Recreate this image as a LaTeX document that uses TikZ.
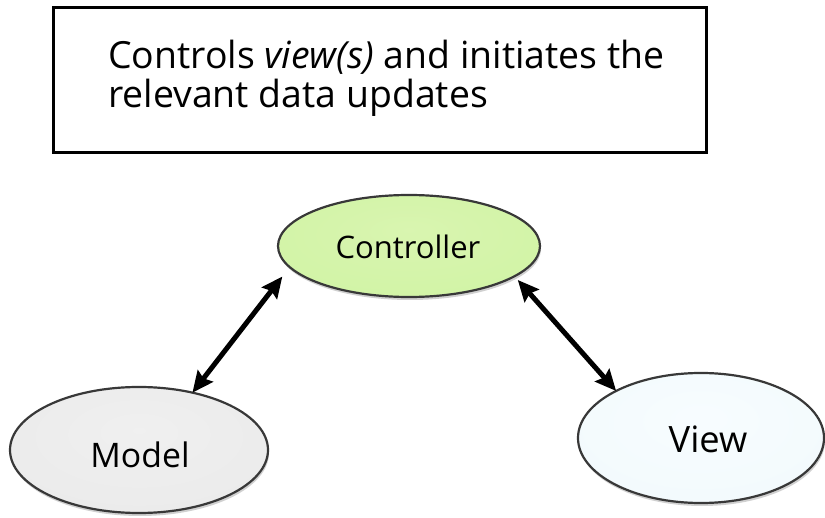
\documentclass[tikz,border=0pt]{standalone}
\usepackage{fontspec}
\setmainfont{Open Sans}
\usetikzlibrary{arrows.meta,shapes.geometric,shadows}
\pgfdeclareradialshading{ctrlshade}{\pgfpoint{0bp}{8bp}}{rgb(0bp)=(0.85,0.96,0.69); rgb(32bp)=(0.82,0.955,0.65); rgb(43bp)=(0.78,0.92,0.58); rgb(50bp)=(0.50,0.62,0.36); rgb(60bp)=(0.28,0.34,0.20)}
\pgfdeclareradialshading{modelshade}{\pgfpoint{0bp}{8bp}}{rgb(0bp)=(0.94,0.94,0.94); rgb(32bp)=(0.92,0.92,0.92); rgb(43bp)=(0.84,0.84,0.84); rgb(50bp)=(0.55,0.55,0.55); rgb(60bp)=(0.30,0.30,0.30)}
\pgfdeclareradialshading{viewshade}{\pgfpoint{0bp}{8bp}}{rgb(0bp)=(0.97,0.99,1.0); rgb(32bp)=(0.95,0.98,0.99); rgb(43bp)=(0.87,0.92,0.94); rgb(50bp)=(0.55,0.61,0.63); rgb(60bp)=(0.30,0.34,0.36)}
\tikzset{
  ell/.style={ellipse, inner sep=0pt, outer sep=0pt, draw=black!78, line width=2.2pt,
    drop shadow={shadow xshift=1pt, shadow yshift=-3pt, opacity=0.3, fill=black!60}},
  lbl/.style={inner sep=0pt, text=black},
  twoway/.style={line width=5pt, {Stealth[length=21pt,width=19pt,inset=3pt]}-{Stealth[length=21pt,width=19pt,inset=3pt]}},
  notebox/.style={draw=black, line width=3pt, inner sep=0pt, outer sep=0pt, fill=white}
}
\begin{document}
\begin{tikzpicture}[x=1pt,y=-1pt]
\useasboundingbox (0,0) rectangle (825,518);
\fill[white] (0,0) rectangle (825,518);
% note box
\node[notebox, minimum width=653pt, minimum height=145pt] (box) at (379.5,80.5) {};
\node[lbl, anchor=base west, align=left, font=\fontsize{37.4}{39}\selectfont] (note) at (108,108)
  {Controls \textit{view(s)} and initiates the\\relevant data updates};
% ellipses
\node[ell, shading=ctrlshade, minimum width=262pt, minimum height=102pt] (ctrl) at (409,246) {};
\node[ell, shading=modelshade, minimum width=258pt, minimum height=126pt] (model) at (139,450) {};
\node[ell, shading=viewshade, minimum width=246pt, minimum height=130pt] (view) at (701,438) {};
% labels
\node[lbl, font=\fontsize{31}{36}\selectfont] (ctrltxt) at (408,247) {Controller};
\node[lbl, font=\fontsize{33.8}{38}\selectfont] (modeltxt) at (140,455) {Model};
\node[lbl, font=\fontsize{36.3}{40}\selectfont] (viewtxt) at (708,439) {View};
% connectors
\draw[twoway, shorten >=12pt] (model.47.6) -- (ctrl.190.5);
\draw[twoway, shorten <=5pt] (ctrl.-16) -- (view.151.3);
\end{tikzpicture}
\end{document}
